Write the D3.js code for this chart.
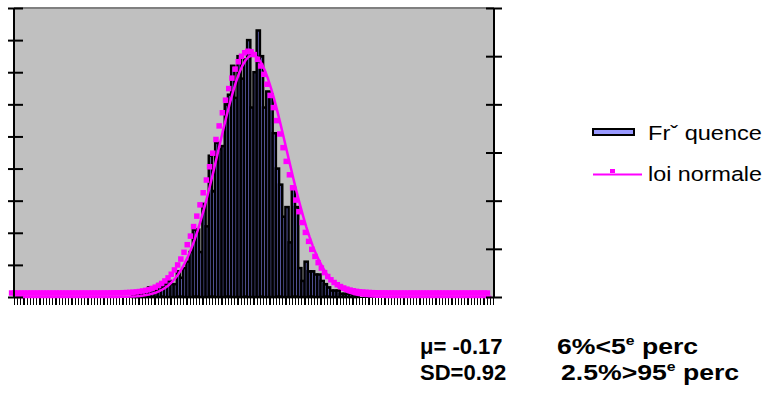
<!DOCTYPE html>
<html><head><meta charset="utf-8">
<script src="https://cdn.jsdelivr.net/npm/d3@7"></script>
<style>body{margin:0;background:#fff}svg{display:block}</style>
</head><body>
<svg id="c" width="769" height="394"></svg>
<script>
// ---- data ----
const categories = d3.range(150); // histogram bins (unlabelled)
const frequence = [
  0,0,0,0,0,0,0,0,0,0,
  0,0,0,0,0,0,0,0,0,0,
  0,0,0,0,0,0,0,0,0,0,
  0,0,0,0,0,0,0,1,1,1,
  2,2,3,3,2,4,3,4,5,4,
  4,8,6,9,11,14,21,21,14,29,
  22,44,33,48,46,47,60,63,72,62,
  75,68,74,80,59,70,83,75,59,64,
  63,51,40,35,25,28,17,34,28,9,
  5,11,8,8,7,7,5,4,3,2,
  2,2,1,1,1,1,1,1,0,0,
  0,0,0,0,0,0,0,0,0,0,
  0,0,0,0,0,0,0,0,0,0,
  0,0,0,0,0,0,0,0,0,0,
  0,0,0,0,0,0,0,0,0,0
];
const loiNormale = [
  0,0,0,0,0,0,0,0,0,0,
  0,0,0,0,0,0,0,0,0,0,
  0,0,0,0,0,0,0,0,0,0,
  0.001,0.001,0.002,0.003,0.004,0.006,0.009,0.012,0.016,0.022,
  0.030,0.041,0.054,0.072,0.094,0.121,0.156,0.198,0.250,0.314,
  0.389,0.479,0.583,0.705,0.845,1.003,1.181,1.379,1.596,1.830,
  2.081,2.345,2.621,2.903,3.187,3.469,3.742,4.003,4.244,4.461,
  4.648,4.801,4.915,4.988,5.019,5.006,4.950,4.851,4.713,4.540,
  4.334,4.102,3.849,3.579,3.301,3.017,2.733,2.454,2.185,1.929,
  1.688,1.463,1.258,1.072,0.906,0.759,0.630,0.519,0.423,0.342,
  0.274,0.218,0.172,0.134,0.104,0.080,0.061,0.046,0.034,0.025,
  0.019,0.014,0.010,0.007,0.005,0.003,0.002,0.002,0.001,0.001,
  0,0,0,0,0,0,0,0,0,0,
  0,0,0,0,0,0,0,0,0,0,
  0,0,0,0,0,0,0,0,0,0
];
const leftTicks = [0,10,20,30,40,50,60,70,80,90];
const rightTicks = [0,1,2,3,4,5,6];
const legendLabels = ["Frˇ quence", "loi normale"];
const stats = [
  {a: "μ= -0.17", b: "6%<5", sup: "e", c: " perc"},
  {a: "SD=0.92", b: "2.5%>95", sup: "e", c: " perc"}
];

// ---- layout ----
const L = 14, R = 494, T = 8, B = 297;
const FONT = "'Liberation Sans', Arial, Helvetica, sans-serif";
const MAG = "#ff00ff";
const svg = d3.select("#c");

const x = d3.scaleBand().domain(categories).range([L, R - 1]).padding(0);
const xl = d3.scaleLinear().domain([0, categories.length]).range([L, R - 1]);
const yL = d3.scaleLinear().domain([0, 90]).range([B, T]);
const yR = d3.scaleLinear().domain([0, 6]).range([B, T]);
const bw = x.bandwidth();

// plot area
svg.append("rect").attr("x", L).attr("y", T).attr("width", R - L).attr("height", B - T).attr("fill", "#c0c0c0");
svg.append("line").attr("x1", L).attr("x2", R).attr("y1", T).attr("y2", T)
  .attr("stroke", "#808080").attr("stroke-width", 2);

// bars
svg.append("g").selectAll("rect").data(categories.filter(d => frequence[d] > 0)).join("rect")
  .attr("x", d => x(d))
  .attr("y", d => yL(frequence[d]))
  .attr("width", bw)
  .attr("height", d => B - yL(frequence[d]))
  .attr("fill", "#7c7ce0")
  .attr("stroke", "#000")
  .attr("stroke-width", 2.5);

// bottom axis (category ticks)
const gx = svg.append("g").attr("transform", `translate(0,${B})`)
  .call(d3.axisBottom(xl).tickValues(d3.range(categories.length + 1)).tickSize(8).tickFormat(""));
gx.select(".domain").attr("stroke", "#000").attr("stroke-width", 1);
gx.selectAll(".tick line").attr("stroke", "#000").attr("stroke-width", 1.2).attr("shape-rendering", "crispEdges");

// normal curve line
const pts = categories.map(d => [x(d) + bw / 2, yR(loiNormale[d])]);
svg.append("path").attr("d", d3.line()(pts))
  .attr("fill", "none").attr("stroke", MAG).attr("stroke-width", 2.5);
// markers (offset like the source rendering)
svg.append("g").selectAll("rect").data(pts).join("rect")
  .attr("x", p => p[0] - 4 - 2.75).attr("y", p => p[1] - 4 - 2.75)
  .attr("width", 5.5).attr("height", 5.5).attr("fill", MAG);

// left axis
const gl = svg.append("g").attr("transform", `translate(${L},0)`)
  .call(d3.axisLeft(yL).tickValues(leftTicks).tickSize(6).tickFormat(""));
gl.select(".domain").attr("d", `M0,${T}V${B}`).attr("stroke", "#000").attr("stroke-width", 2);
gl.selectAll(".tick line").attr("x1", -6).attr("x2", 9).attr("stroke", "#000").attr("stroke-width", 2);

// right axis
const gr = svg.append("g").attr("transform", `translate(${R},0)`)
  .call(d3.axisRight(yR).tickValues(rightTicks).tickSize(8).tickFormat(""));
gr.select(".domain").attr("d", `M0,${T}V${B}`).attr("stroke", "#000").attr("stroke-width", 2);
gr.selectAll(".tick line").attr("x1", -8).attr("x2", 8).attr("stroke", "#000").attr("stroke-width", 2);

// legend
const lg = svg.append("g");
lg.append("rect").attr("x", 593).attr("y", 129).attr("width", 41).attr("height", 6)
  .attr("fill", "#9999ff").attr("stroke", "#000").attr("stroke-width", 2);
lg.append("text").attr("x", 648).attr("y", 140).text(legendLabels[0])
  .attr("font-family", FONT).attr("font-size", 20.5).attr("fill", "#000")
  .attr("textLength", 114).attr("lengthAdjust", "spacingAndGlyphs");
lg.append("line").attr("x1", 593).attr("x2", 642).attr("y1", 174.5).attr("y2", 174.5)
  .attr("stroke", MAG).attr("stroke-width", 2);
lg.append("rect").attr("x", 610).attr("y", 169).attr("width", 5).attr("height", 4).attr("fill", MAG);
lg.append("text").attr("x", 648).attr("y", 181).text(legendLabels[1])
  .attr("font-family", FONT).attr("font-size", 20.5).attr("fill", "#000")
  .attr("textLength", 114).attr("lengthAdjust", "spacingAndGlyphs");

// stats text
const sx = [[420, 557], [420, 561]];
const sy = [354, 380];
stats.forEach((s, i) => {
  svg.append("text").attr("x", sx[i][0]).attr("y", sy[i]).text(s.a)
    .attr("font-family", FONT).attr("font-size", 22).attr("font-weight", "bold");
  const t = svg.append("text")
    .attr("transform", `translate(${sx[i][1]},${sy[i]}) scale(1.21,1)`)
    .attr("font-family", FONT).attr("font-size", 22).attr("font-weight", "bold");
  t.append("tspan").text(s.b);
  t.append("tspan").text(s.sup).attr("font-size", 13).attr("dy", -9);
  t.append("tspan").text(s.c).attr("dy", 9);
});
</script>
</body></html>
